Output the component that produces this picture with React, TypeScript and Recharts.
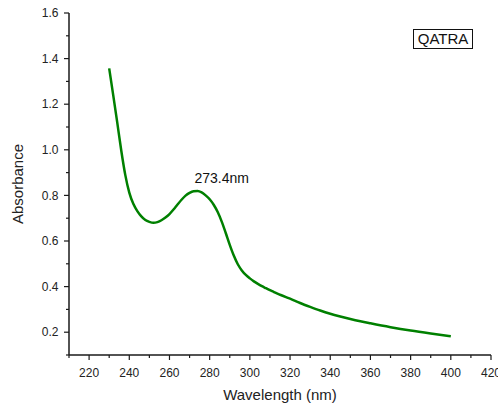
import { LineChart, Line, XAxis, YAxis, ReferenceDot } from "recharts";

const wavelength = [
  230, 232, 234, 236, 238, 240, 242, 244, 246, 248, 250, 252, 254, 256, 258,
  260, 262, 264, 266, 268, 270, 272, 274, 276, 278, 280, 282, 284, 286, 288,
  290, 292, 294, 296, 298, 300, 302, 304, 306, 308, 310, 312, 314, 316, 318,
  320, 325, 330, 335, 340, 345, 350, 355, 360, 370, 380, 390, 400,
];
const absorbance = [
  1.357, 1.24, 1.12, 0.997, 0.89, 0.812, 0.763, 0.731, 0.708, 0.692, 0.684,
  0.68, 0.683, 0.691, 0.703, 0.718, 0.738, 0.76, 0.781, 0.799, 0.811, 0.818,
  0.819, 0.813, 0.8, 0.783, 0.759, 0.727, 0.685, 0.635, 0.583, 0.536, 0.498,
  0.471, 0.451, 0.436, 0.423, 0.412, 0.402, 0.393, 0.384, 0.376, 0.368, 0.361,
  0.354, 0.347, 0.328, 0.311, 0.295, 0.281, 0.269, 0.258, 0.248, 0.239, 0.222,
  0.207, 0.194, 0.182,
];
const xTicks = [
  210, 220, 230, 240, 250, 260, 270, 280, 290, 300, 310, 320, 330, 340, 350,
  360, 370, 380, 390, 400, 410, 420,
];
const yTicks = [
  0.1, 0.2, 0.3, 0.4, 0.5, 0.6, 0.7, 0.8, 0.9, 1.0, 1.1, 1.2, 1.3, 1.4, 1.5,
  1.6,
];
const peak = { wl: 273.4, abs: 0.82, text: "273.4nm" };
const sampleName = "QATRA";

const data = wavelength.map((wl, i) => ({ wl, abs: absorbance[i] }));

const FONT = "Arial, 'Liberation Sans', sans-serif";
const AXIS = "#1a1a1a";

const XTick = ({ x, y, payload }: any) => {
  const major = payload.value % 20 === 0;
  return (
    <g>
      <line x1={x} x2={x} y1={y} y2={y + (major ? 5 : 3)} stroke={AXIS} strokeWidth={1.2} />
      {major && (
        <text x={x} y={y + 21.5} textAnchor="middle" fontSize={12} fontFamily={FONT} fill="#222">
          {payload.value}
        </text>
      )}
    </g>
  );
};

const YTick = ({ x, y, payload }: any) => {
  const major = Math.round(payload.value * 10) % 2 === 0;
  return (
    <g>
      <line x1={x} x2={x - (major ? 5 : 3)} y1={y} y2={y} stroke={AXIS} strokeWidth={1.2} />
      {major && (
        <text x={x - 10.5} y={y + 4.2} textAnchor="end" fontSize={12} fontFamily={FONT} fill="#222">
          {payload.value.toFixed(1)}
        </text>
      )}
    </g>
  );
};

export default function App() {
  return (
    <div style={{ position: "absolute", left: 0, top: 0, width: 498, height: 407, background: "#fff" }}>
      <LineChart width={498} height={407} data={data} margin={{ top: 13, right: 7, bottom: 0, left: 0 }}>
        <XAxis
          dataKey="wl"
          type="number"
          domain={[210, 420]}
          ticks={xTicks}
          interval={0}
          height={52}
          tickSize={0}
          tickMargin={0}
          tickLine={false}
          tick={<XTick />}
          axisLine={{ stroke: AXIS, strokeWidth: 1.5 }}
          label={{
            content: ({ viewBox }: any) => (
              <text
                x={viewBox.x + viewBox.width / 2}
                y={viewBox.y + 45}
                textAnchor="middle"
                fontSize={15}
                fontFamily={FONT}
                fill="#222"
              >
                Wavelength (nm)
              </text>
            ),
          }}
        />
        <XAxis
          xAxisId="top"
          orientation="top"
          dataKey="wl"
          type="number"
          domain={[210, 420]}
          height={0}
          tick={false}
          tickLine={false}
          axisLine={{ stroke: AXIS, strokeWidth: 1.5 }}
        />
        <YAxis
          dataKey="abs"
          type="number"
          domain={[0.1, 1.6]}
          ticks={yTicks}
          interval={0}
          width={69}
          tickSize={0}
          tickMargin={0}
          tickLine={false}
          tick={<YTick />}
          axisLine={{ stroke: AXIS, strokeWidth: 1.5 }}
          label={{
            content: ({ viewBox }: any) => {
              const cy = viewBox.y + viewBox.height / 2;
              return (
                <text
                  x={17}
                  y={cy}
                  transform={`rotate(-90, 17, ${cy})`}
                  textAnchor="middle"
                  dominantBaseline="central"
                  fontSize={15}
                  fontFamily={FONT}
                  fill="#222"
                >
                  Absorbance
                </text>
              );
            },
          }}
        />
        <YAxis
          yAxisId="right"
          orientation="right"
          dataKey="abs"
          type="number"
          domain={[0.1, 1.6]}
          width={0}
          tick={false}
          tickLine={false}
          axisLine={{ stroke: AXIS, strokeWidth: 1.5 }}
        />
        <Line
          type="monotone"
          dataKey="abs"
          stroke="#008000"
          strokeWidth={2.5}
          dot={false}
          isAnimationActive={false}
        />
        <ReferenceDot
          x={peak.wl}
          y={peak.abs}
          r={0}
          fill="none"
          stroke="none"
          label={{
            content: ({ viewBox }: any) => (
              <text
                x={viewBox.x - 2}
                y={viewBox.y - 7.5}
                textAnchor="start"
                fontSize={14}
                fontFamily={FONT}
                fill="#111"
              >
                {peak.text}
              </text>
            ),
          }}
        />
      </LineChart>
      <div
        style={{
          position: "absolute",
          left: 413,
          top: 29,
          width: 60,
          height: 20,
          boxSizing: "border-box",
          border: "1px solid #111",
          fontFamily: FONT,
          fontSize: 15,
          lineHeight: "18px",
          textAlign: "center",
          color: "#111",
        }}
      >
        {sampleName}
      </div>
    </div>
  );
}
